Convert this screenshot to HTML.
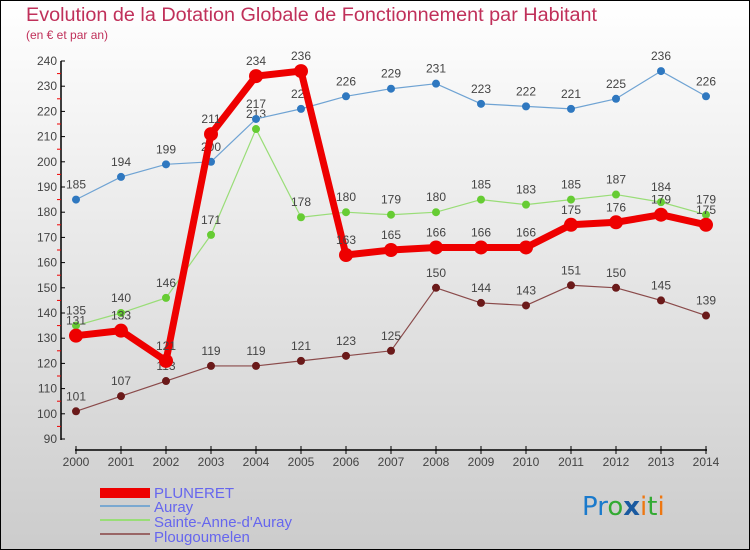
<!DOCTYPE html>
<html><head><meta charset="utf-8"><style>
body{margin:0}
#c{width:750px;height:550px;position:relative;overflow:hidden;font-family:"DejaVu Sans","Liberation Sans",sans-serif}
</style></head><body>
<div id="c">
<svg width="750" height="550" xmlns="http://www.w3.org/2000/svg" id="svg">
<defs><linearGradient id="bg" x1="0" y1="0" x2="0" y2="1"><stop offset="0" stop-color="#ffffff"/><stop offset="1" stop-color="#cccccc"/></linearGradient></defs>
<rect x="0.5" y="0.5" width="749" height="549" fill="url(#bg)" stroke="#000"/>
<text x="26" y="21" font-size="19" fill="#c0305a" font-family="Liberation Sans, sans-serif" textLength="571" lengthAdjust="spacingAndGlyphs">Evolution de la Dotation Globale de Fonctionnement par Habitant</text>
<text x="26" y="39" font-size="12" fill="#c0305a" font-family="Liberation Sans, sans-serif">(en € et par an)</text>
<g id="axes"></g>
<g id="series"></g>
<g font-family="Liberation Sans, sans-serif" font-size="15" fill="#6666ee">
<rect x="100" y="488" width="50" height="10" fill="#e00"/>
<text x="154" y="498">PLUNERET</text>
<rect x="100" y="505" width="50" height="2" fill="#7aa8d0"/>
<text x="154" y="512">Auray</text>
<rect x="100" y="519" width="50" height="2" fill="#99dd77"/>
<text x="154" y="527">Sainte-Anne-d'Auray</text>
<rect x="100" y="533" width="50" height="2" fill="#996666"/>
<text x="154" y="542">Plougoumelen</text>
</g>
<g font-family="DejaVu Sans, sans-serif" font-size="26">
<text x="582" y="515"><tspan fill="#1a7acc">Pr</tspan><tspan fill="#33aa33">o</tspan><tspan fill="#1a5aa0" font-weight="bold">x</tspan><tspan fill="#ee7711">i</tspan><tspan fill="#33aa33">t</tspan><tspan fill="#ee7711">i</tspan></text>
</g>
</svg>
</div>
<script>
const years=[2000,2001,2002,2003,2004,2005,2006,2007,2008,2009,2010,2011,2012,2013,2014];
const pluneret=[131,133,121,211,234,236,163,165,166,166,166,175,176,179,175];
const auray=[185,194,199,200,217,221,226,229,231,223,222,221,225,236,226];
const sainteAnne=[135,140,146,171,213,178,180,179,180,185,183,185,187,184,179];
const plougoumelen=[101,107,113,119,119,121,123,125,150,144,143,151,150,145,139];
const yTicks=[90,100,110,120,130,140,150,160,170,180,190,200,210,220,230,240];
const NS='http://www.w3.org/2000/svg';
function x(i){return 76+i*45;}
function y(v){return 439-(v-90)*2.52;}
function mk(t,a,p){const e=document.createElementNS(NS,t);for(const k in a)e.setAttribute(k,a[k]);p.appendChild(e);return e;}
const ax=document.getElementById('axes');
let l=mk('line',{x1:61,y1:y(240),x2:61,y2:440,stroke:'#000','stroke-width':1.5},ax);


yTicks.forEach(v=>{
 mk('line',{x1:61,y1:y(v),x2:65,y2:y(v),stroke:'#000'},ax);
 if(v<240) mk('line',{x1:57,y1:y(v+5),x2:61,y2:y(v+5),stroke:'#e00'},ax);
 const t=mk('text',{x:57,y:y(v)+4,'font-size':12,fill:'#444','text-anchor':'end','font-family':'Liberation Sans, sans-serif'},ax);
 t.textContent=v;
 
 
});
l=mk('line',{x1:75,y1:450,x2:707,y2:450,stroke:'#000','stroke-width':1.5},ax);


years.forEach((yr,i)=>{
 mk('line',{x1:x(i),y1:446,x2:x(i),y2:454,stroke:'#000'},ax);
 const t=mk('text',{x:x(i),y:466,'font-size':12,fill:'#444','text-anchor':'middle','font-family':'Liberation Sans, sans-serif'},ax);
 t.textContent=yr;
 
 
});
const sg=document.getElementById('series');
function draw(data,name,color,dot,w,r){
 const g=mk('g',{},sg);
 
 
 const p=mk('polyline',{points:data.map((v,i)=>x(i)+','+y(v)).join(' '),fill:'none',stroke:color,'stroke-width':w,'stroke-linejoin':'round'},g);
 
 
 data.forEach((v,i)=>{
  const c=mk('circle',{cx:x(i),cy:y(v),r:r,fill:dot},g);
  
  
  const t=mk('text',{x:x(i),y:y(v)-11,'font-size':12,fill:'#444','text-anchor':'middle','font-family':'Liberation Sans, sans-serif'},g);
  t.textContent=v;
  
  
 });
}
draw(plougoumelen,'plougoumelen','#8a4a4a','#6b1a1a',1.2,4);
draw(sainteAnne,'sainte-anne','#99dd77','#66cc33',1.2,4);
draw(auray,'auray','#6fa3d3','#2f78c0',1.2,4);
draw(pluneret,'pluneret','#ee0000','#ee0000',7,7);
</script>
</body></html>
